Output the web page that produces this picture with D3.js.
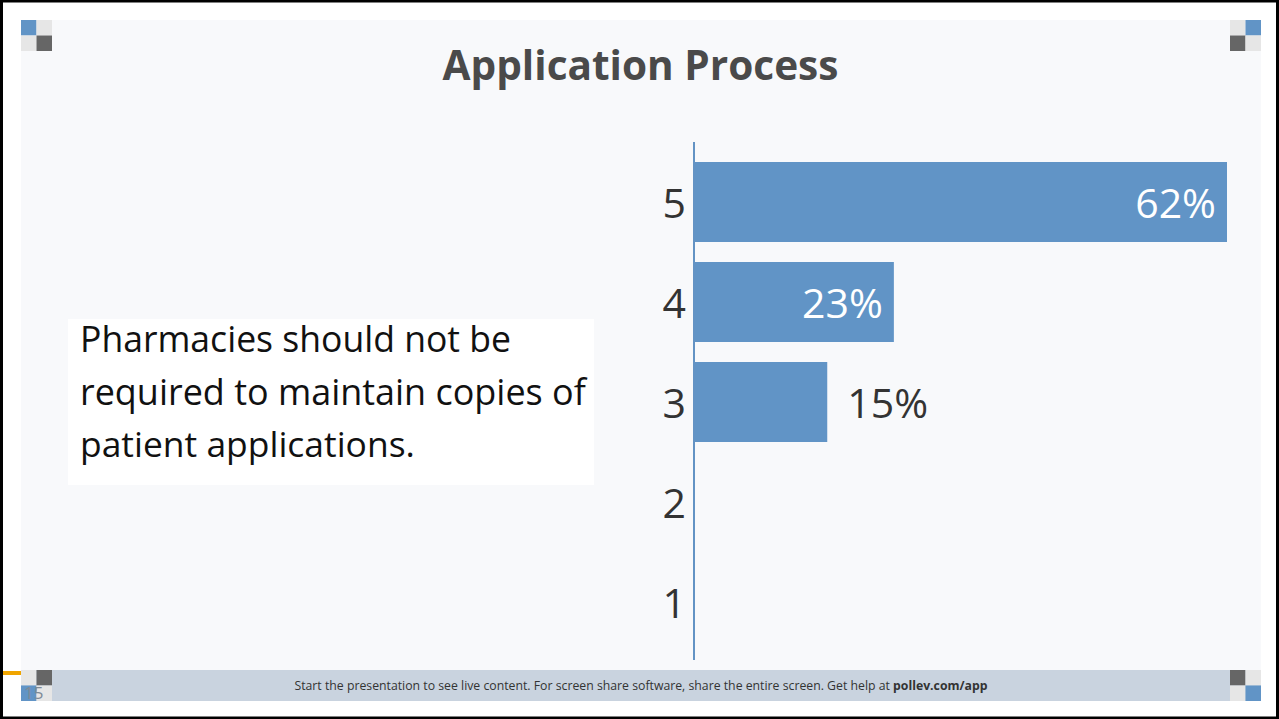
<!DOCTYPE html>
<html>
<head>
<meta charset="utf-8">
<script src="https://cdn.jsdelivr.net/npm/d3@7"></script>
<style>
  html, body { margin: 0; padding: 0; background: #ffffff; }
  svg { display: block; }
</style>
</head>
<body>
<script>
// Poll slide: rating distribution for one statement
const title = "Application Process";
const statementLines = [
  "Pharmacies should not be",
  "required to maintain copies of",
  "patient applications."
];
const ratings = ["5", "4", "3", "2", "1"];
const responseCounts = [8, 3, 2, 0, 0];
const footerText = "Start the presentation to see live content. For screen share software, share the entire screen. Get help at ";
const footerLink = "pollev.com/app";
const slideNumber = "15";

const W = 1279, H = 719;
const BLUE = "#6194c6", DARK = "#666666", LIGHT = "#e6e6e6";
const FONT = "'Open Sans', 'Noto Sans', sans-serif";
const QFONT = "'Open Sans', 'Noto Sans', sans-serif";

const svg = d3.select("body").append("svg").attr("width", W).attr("height", H);

// frame
svg.append("rect").attr("x", 0).attr("y", 0).attr("width", W).attr("height", H).attr("fill", "#fff");
svg.append("rect").attr("x", 1.5).attr("y", 1).attr("width", W - 3).attr("height", H - 2)
  .attr("fill", "none").attr("stroke", "#000").attr("stroke-width", 3);

// slide background
svg.append("rect").attr("x", 21).attr("y", 20).attr("width", 1240).attr("height", 650).attr("fill", "#f8f9fb");

// footer bar
svg.append("rect").attr("x", 21).attr("y", 670).attr("width", 1240).attr("height", 31).attr("fill", "#c9d3df");
svg.append("rect").attr("x", 3).attr("y", 671).attr("width", 18).attr("height", 4).attr("fill", "#f0a500");

// corner squares
function corner(x, y, colors) {
  const s = 15.5;
  colors.forEach((c, i) => {
    svg.append("rect")
      .attr("x", x + (i % 2) * s).attr("y", y + Math.floor(i / 2) * s)
      .attr("width", s).attr("height", s).attr("fill", c);
  });
}
corner(21, 20, [BLUE, LIGHT, LIGHT, DARK]);
corner(1230, 20, [LIGHT, BLUE, DARK, LIGHT]);
corner(21, 670, [LIGHT, DARK, BLUE, LIGHT]);
corner(1230, 670, [DARK, LIGHT, LIGHT, BLUE]);

svg.append("text").attr("x", 24).attr("y", 699).attr("font-family", FONT)
  .attr("font-size", 17).attr("fill", "#7f8a96").text(slideNumber);

// fit text to a given width by adjusting the font size
function fitWidth(sel, target) {
  const fs = +sel.attr("font-size");
  const w = sel.node().getComputedTextLength();
  if (w > 0) sel.attr("font-size", fs * target / w);
  return sel;
}

// title
const t = svg.append("text").attr("x", 640.5).attr("y", 80).attr("text-anchor", "middle")
  .attr("font-family", FONT).attr("font-weight", 700).attr("font-size", 42)
  .attr("fill", "#4a4a4a").text(title);
fitWidth(t, 396);

// statement box
svg.append("rect").attr("x", 68).attr("y", 319).attr("width", 526).attr("height", 166).attr("fill", "#ffffff");
const lineY = [352, 405, 457];
const lineW = [431, 506, 335];
statementLines.forEach((s, i) => {
  const tx = svg.append("text").attr("x", 80).attr("y", lineY[i])
    .attr("font-family", QFONT).attr("font-size", 34).attr("fill", "#111111").text(s);
  fitWidth(tx, lineW[i]);
});

// chart
const y = d3.scaleBand().domain(ratings).range([152, 652]).paddingInner(0.2).paddingOuter(0.1);
const x = d3.scaleLinear().domain([0, d3.max(responseCounts)]).range([694, 1227]);
const total = d3.sum(responseCounts);
const data = ratings.map((r, i) => ({ r, n: responseCounts[i] }));

svg.selectAll("rect.bar").data(data.filter(d => d.n > 0)).join("rect")
  .attr("class", "bar")
  .attr("x", x(0)).attr("y", d => y(d.r))
  .attr("width", d => x(d.n) - x(0)).attr("height", y.bandwidth())
  .attr("fill", BLUE);

const yAxis = svg.append("g").attr("transform", `translate(${x(0)},0)`)
  .call(d3.axisLeft(y).tickSize(0).tickPadding(8));
yAxis.select(".domain").remove();
yAxis.selectAll("text").attr("font-family", FONT).attr("font-size", 41).attr("fill", "#333333")
  .attr("dy", "0.4em");
svg.append("line").attr("x1", x(0)).attr("x2", x(0)).attr("y1", 142).attr("y2", 660)
  .attr("stroke", "#6393c4").attr("stroke-width", 2);

svg.selectAll("text.val").data(data.filter(d => d.n > 0)).join("text")
  .attr("class", "val")
  .each(function (d) {
    const inside = x(d.n) - x(0) > 160;
    d3.select(this)
      .attr("x", inside ? x(d.n) - 11 : x(d.n) + 20)
      .attr("text-anchor", inside ? "end" : "start")
      .attr("fill", inside ? "#ffffff" : "#333333");
  })
  .attr("y", d => y(d.r) + y.bandwidth() / 2)
  .attr("dy", "0.38em")
  .attr("font-family", FONT).attr("font-size", 41)
  .text(d => Math.round(d.n / total * 100) + "%");

// footer text
const ft = svg.append("text").attr("x", 641).attr("y", 690).attr("text-anchor", "middle")
  .attr("font-family", FONT).attr("font-size", 12).attr("fill", "#333333");
ft.append("tspan").text(footerText);
ft.append("tspan").attr("font-weight", 700).text(footerLink);
fitWidth(ft, 694);
</script>
</body>
</html>
